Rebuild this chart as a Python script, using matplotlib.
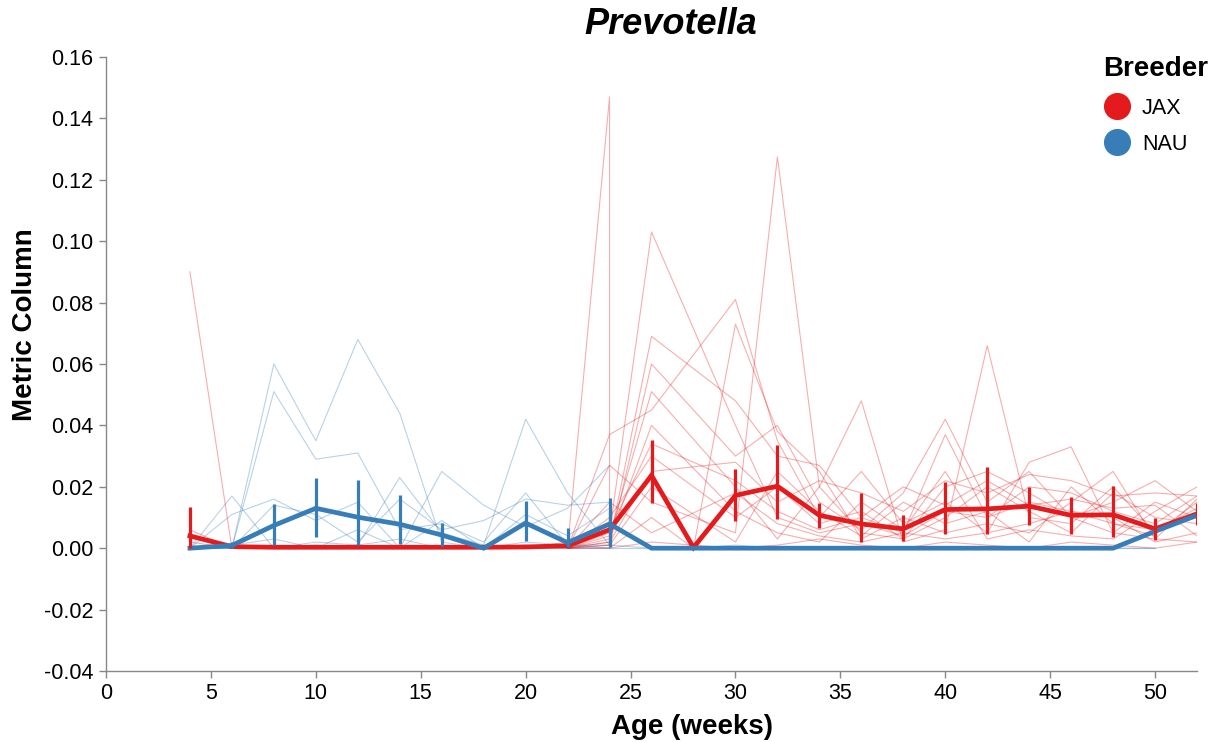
import numpy as np
import matplotlib
matplotlib.use('Agg')
import matplotlib.pyplot as plt
from matplotlib.lines import Line2D

plt.rcParams['font.family'] = ['Liberation Sans', 'DejaVu Sans']

JAX_COLOR = '#e41a1c'
NAU_COLOR = '#377eb8'
nan = np.nan

# semanas de las muestras individuales
jax_early_weeks = [4, 6, 8, 10, 12, 14, 16, 18, 20, 22]
jax_early = [
    [0.090, 0.000, 0.000, 0.000, 0.000, 0.000, 0.000, 0.000, 0.000, 0.000],
    [0.006, 0.000, 0.001, 0.000, 0.000, 0.001, 0.000, 0.000, 0.001, 0.000],
    [0.000, 0.001, 0.000, 0.000, 0.001, 0.000, 0.000, 0.001, 0.000, 0.002],
    [0.002, 0.000, 0.000, 0.001, 0.000, 0.000, 0.001, 0.000, 0.000, 0.001],
]

jax_late_weeks = [22, 24, 26, 28, 30, 32, 34, 36, 38, 40, 42, 44, 46, 48, 50, 52]
jax_late = [
    [0.000, 0.005, 0.103, nan, 0.040, 0.010, 0.005, 0.008, 0.004, 0.012, 0.010, 0.015, 0.012, 0.008, 0.004, nan],
    [0.000, 0.002, 0.069, nan, 0.048, 0.030, 0.027, 0.010, 0.005, 0.037, 0.010, 0.020, 0.018, 0.012, 0.008, 0.017],
    [0.000, 0.001, 0.060, nan, 0.030, 0.040, 0.015, 0.006, 0.018, 0.042, 0.015, 0.025, 0.010, 0.015, 0.022, 0.012],
    [0.000, 0.004, 0.051, nan, 0.020, 0.003, 0.020, 0.048, 0.002, 0.006, 0.066, 0.010, 0.008, 0.020, 0.005, 0.015],
    [0.000, 0.037, 0.045, nan, 0.081, 0.035, 0.010, 0.025, 0.008, 0.015, 0.005, 0.028, 0.033, 0.005, 0.003, 0.002],
    [0.000, 0.027, 0.015, nan, 0.005, 0.1275, 0.020, 0.005, 0.003, 0.010, 0.020, 0.012, 0.005, 0.018, 0.010, 0.008],
    [0.000, 0.000, 0.010, 0.000, 0.073, 0.038, 0.025, 0.003, 0.010, 0.005, 0.008, 0.005, 0.015, 0.025, 0.003, 0.016],
    [0.000, 0.010, 0.030, nan, 0.010, 0.020, 0.008, 0.012, 0.003, 0.020, 0.025, 0.018, 0.010, 0.005, 0.015, 0.010],
    [0.000, 0.015, 0.005, nan, 0.018, 0.008, 0.004, 0.002, 0.005, 0.003, 0.005, 0.008, 0.012, 0.010, 0.002, 0.005],
    [0.000, 0.001, 0.020, nan, 0.002, 0.025, 0.012, 0.004, 0.015, 0.008, 0.012, 0.002, 0.020, 0.008, 0.006, 0.013],
    [0.000, 0.000, 0.002, nan, 0.000, 0.001, 0.003, 0.001, 0.000, 0.002, 0.001, 0.000, 0.002, 0.001, 0.000, 0.002],
    [0.000, 0.003, 0.040, nan, 0.012, 0.005, 0.002, 0.015, 0.006, 0.025, 0.003, 0.006, 0.004, 0.003, 0.012, 0.020],
    [0.000, 0.002, 0.025, nan, 0.028, 0.015, 0.022, 0.018, 0.012, 0.022, 0.018, 0.024, 0.022, 0.017, 0.018, 0.017],
    [0.000, 0.006, 0.034, nan, 0.022, 0.012, 0.006, 0.010, 0.020, 0.014, 0.022, 0.014, 0.016, 0.013, 0.014, 0.004],
]
# raton con dos muestras en la semana 24
jax_spike_weeks = [22, 24, 24]
jax_spike = [0.000, 0.147, 0.000]

nau_weeks = [4, 6, 8, 10, 12, 14, 16, 18, 20, 22, 24]
nau_mice = [
    [0.000, 0.000, 0.060, 0.035, 0.068, 0.044, 0.002, 0.000, 0.000, 0.000, 0.000],
    [0.000, 0.000, 0.051, 0.029, 0.031, 0.006, 0.008, 0.002, 0.018, 0.001, 0.000],
    [0.000, 0.017, 0.000, 0.000, 0.001, 0.023, 0.005, 0.001, 0.042, 0.018, 0.001],
    [0.000, 0.011, 0.016, 0.009, 0.015, 0.000, 0.025, 0.014, 0.007, 0.013, 0.027],
    [0.000, 0.000, 0.014, 0.011, 0.002, 0.016, 0.006, 0.009, 0.016, 0.014, 0.015],
    [0.000, 0.001, 0.003, 0.000, 0.006, 0.000, 0.009, 0.000, 0.011, 0.004, 0.013],
    [0.000, 0.000, 0.000, 0.002, 0.001, 0.003, 0.000, 0.000, 0.002, 0.001, 0.001],
]
nau_late_weeks = [24, 26, 28, 30, 32, 34, 36, 38, 40, 42, 44, 46, 48, 50]
nau_late = [
    [0.000, 0.000, 0.000, 0.000, 0.000, 0.000, 0.000, 0.000, 0.000, 0.000, 0.000, 0.000, 0.000, 0.000],
    [0.001, 0.000, 0.000, 0.001, 0.000, 0.000, 0.000, 0.000, 0.000, 0.000, 0.000, 0.000, 0.000, 0.000],
]

# medias y barras de error
mean_weeks = [4, 6, 8, 10, 12, 14, 16, 18, 20, 22, 24, 26, 28, 30, 32, 34, 36, 38, 40, 42, 44, 46, 48, 50, 52]
jax_mean = [0.004, 0.0005, 0.0003, 0.0003, 0.0003, 0.0003, 0.0003, 0.0003, 0.0004, 0.0008, 0.006,
            0.0237, 0.0002, 0.0172, 0.0202, 0.0107, 0.0079, 0.0063, 0.0126, 0.0128, 0.0137, 0.0107,
            0.0109, 0.0063, 0.0112]
jax_lo = [0.000, 0.0002, 0.0003, 0.0003, 0.0003, 0.0003, 0.0003, 0.0003, 0.0003, 0.0002, 0.001,
          0.0148, 0.0002, 0.0087, 0.0096, 0.0065, 0.002, 0.0022, 0.0047, 0.0047, 0.0077, 0.0047,
          0.0036, 0.0028, 0.0076]
jax_hi = [0.0133, 0.001, 0.0003, 0.0003, 0.0003, 0.0003, 0.0003, 0.0003, 0.0005, 0.002, 0.012,
          0.0351, 0.0002, 0.0257, 0.0335, 0.0148, 0.018, 0.0107, 0.0217, 0.0264, 0.0199, 0.0166,
          0.0204, 0.0098, 0.0148]
nau_mean = [0.000, 0.0009, 0.0074, 0.013, 0.0101, 0.0078, 0.0043, 0.000, 0.0082, 0.0018, 0.0079,
            0.000, 0.000, 0.000, 0.000, 0.000, 0.000, 0.000, 0.000, 0.000, 0.000, 0.000, 0.000,
            0.0055, 0.0107]
nau_lo = [0.000, 0.000, 0.0009, 0.0036, 0.0011, 0.0014, 0.0008, 0.000, 0.0022, 0.0005, 0.0005,
          0.000, 0.000, 0.000, 0.000, 0.000, 0.000, 0.000, 0.000, 0.000, 0.000, 0.000, 0.000,
          0.0055, 0.0107]
nau_hi = [0.000, 0.002, 0.0143, 0.0228, 0.0223, 0.0172, 0.0082, 0.000, 0.0155, 0.0067, 0.0163,
          0.000, 0.000, 0.000, 0.000, 0.000, 0.000, 0.000, 0.000, 0.000, 0.000, 0.000, 0.000,
          0.0055, 0.0107]


def linea_fina(ax, semanas, valores, color):
    x = np.array(semanas, dtype=float)
    y = np.array(valores, dtype=float)
    ok = ~np.isnan(y)
    ax.plot(x[ok], y[ok], color=color, lw=0.8, alpha=0.35, zorder=1)


fig = plt.figure(figsize=(12.17, 7.42), dpi=100)
ax = fig.add_axes([0.0871, 0.0957, 0.8965, 0.8275])

for fila in jax_early:
    linea_fina(ax, jax_early_weeks, fila, JAX_COLOR)
for fila in jax_late:
    linea_fina(ax, jax_late_weeks, fila, JAX_COLOR)
linea_fina(ax, jax_spike_weeks, jax_spike, JAX_COLOR)
for fila in nau_mice:
    linea_fina(ax, nau_weeks, fila, NAU_COLOR)
for fila in nau_late:
    linea_fina(ax, nau_late_weeks, fila, NAU_COLOR)

ax.plot(mean_weeks, jax_mean, color=JAX_COLOR, lw=3.4, zorder=3, solid_joinstyle='miter')
ax.plot(mean_weeks, nau_mean, color=NAU_COLOR, lw=3.4, zorder=3, solid_joinstyle='miter')
ax.vlines(mean_weeks, jax_lo, jax_hi, color=JAX_COLOR, lw=2.3, zorder=4)
ax.vlines(mean_weeks, nau_lo, nau_hi, color=NAU_COLOR, lw=2.3, zorder=4)

ax.set_xlim(0, 52)
ax.set_ylim(-0.04, 0.16)
ax.set_xticks(np.arange(0, 51, 5))
ax.set_yticks(np.arange(-0.04, 0.161, 0.02))
ax.set_yticklabels([f'{v:.2f}' for v in np.arange(-0.04, 0.161, 0.02)])

for lado in ['top', 'right']:
    ax.spines[lado].set_visible(False)
for lado in ['left', 'bottom']:
    ax.spines[lado].set_color('#888888')
    ax.spines[lado].set_linewidth(1.0)
ax.tick_params(colors='#888888', labelcolor='black', labelsize=15.5, length=5, width=1.0, pad=4)

# titulos de ejes como texto de figura para ubicarlos como en la referencia
fig.text(692 / 1217, 1 - 727 / 742, 'Age (weeks)', fontsize=20, fontweight='bold',
         ha='center', va='center')
fig.text(25 / 1217, 1 - 325 / 742, 'Metric Column', fontsize=20, fontweight='bold',
         rotation=90, ha='center', va='center')
fig.text(671 / 1217, 1 - 25 / 742, 'Prevotella', fontsize=26, fontweight='bold', fontstyle='italic',
         ha='center', va='center')

handles = [Line2D([], [], ls='none', marker='o', markersize=18.5, color=JAX_COLOR),
           Line2D([], [], ls='none', marker='o', markersize=18.5, color=NAU_COLOR)]
leg = fig.legend(handles, ['JAX', 'NAU'], title='Breeder', loc='upper left',
                 bbox_to_anchor=(1103 / 1217, 1 - 56 / 742), frameon=False, fontsize=15.5,
                 title_fontproperties={'weight': 'bold', 'size': 20},
                 handlelength=1.3, handletextpad=0.5, labelspacing=0.72, borderaxespad=0,
                 borderpad=0)
leg._legend_box.align = 'left'

fig.savefig('out.png', dpi=100)
plt.close(fig)
